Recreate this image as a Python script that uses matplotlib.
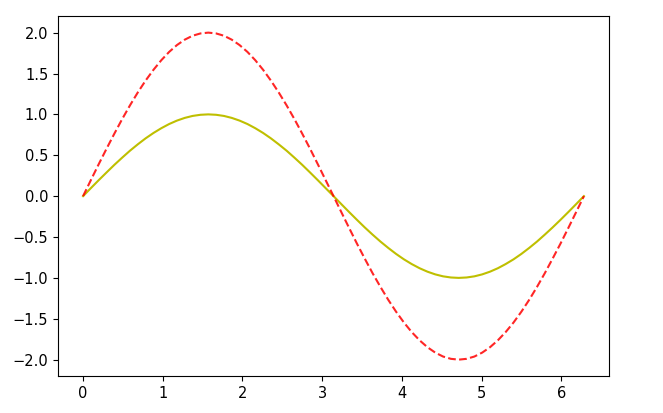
import matplotlib
matplotlib.use("Agg")
import matplotlib.pyplot as plt

# values
x = [0.000, 0.098, 0.196, 0.295, 0.393, 0.491, 0.589, 0.687, 0.785, 0.884,
     0.982, 1.080, 1.178, 1.276, 1.374, 1.473, 1.571, 1.669, 1.767, 1.865,
     1.963, 2.062, 2.160, 2.258, 2.356, 2.454, 2.553, 2.651, 2.749, 2.847,
     2.945, 3.043, 3.142, 3.240, 3.338, 3.436, 3.534, 3.632, 3.731, 3.829,
     3.927, 4.025, 4.123, 4.222, 4.320, 4.418, 4.516, 4.614, 4.712, 4.811,
     4.909, 5.007, 5.105, 5.203, 5.301, 5.400, 5.498, 5.596, 5.694, 5.792,
     5.890, 5.989, 6.087, 6.185, 6.283]
y_small = [0.000, 0.098, 0.195, 0.290, 0.383, 0.471, 0.556, 0.634, 0.707, 0.773,
           0.831, 0.882, 0.924, 0.957, 0.981, 0.995, 1.000, 0.995, 0.981, 0.957,
           0.924, 0.882, 0.831, 0.773, 0.707, 0.634, 0.556, 0.471, 0.383, 0.290,
           0.195, 0.098, 0.000, -0.098, -0.195, -0.290, -0.383, -0.471, -0.556, -0.634,
           -0.707, -0.773, -0.831, -0.882, -0.924, -0.957, -0.981, -0.995, -1.000, -0.995,
           -0.981, -0.957, -0.924, -0.882, -0.831, -0.773, -0.707, -0.634, -0.556, -0.471,
           -0.383, -0.290, -0.195, -0.098, 0.000]
y_big = [0.000, 0.196, 0.390, 0.581, 0.765, 0.943, 1.111, 1.269, 1.414, 1.546,
         1.663, 1.764, 1.848, 1.914, 1.962, 1.990, 2.000, 1.990, 1.962, 1.914,
         1.848, 1.764, 1.663, 1.546, 1.414, 1.269, 1.111, 0.943, 0.765, 0.581,
         0.390, 0.196, 0.000, -0.196, -0.390, -0.581, -0.765, -0.943, -1.111, -1.269,
         -1.414, -1.546, -1.663, -1.764, -1.848, -1.914, -1.962, -1.990, -2.000, -1.990,
         -1.962, -1.914, -1.848, -1.764, -1.663, -1.546, -1.414, -1.269, -1.111, -0.943,
         -0.765, -0.581, -0.390, -0.196, 0.000]

plt.rcParams['font.size'] = 10.5
fig = plt.figure(figsize=(6.63, 4.13), dpi=100)
ax = fig.add_axes([0.0875, 0.0896, 0.831, 0.871])
ax.plot(x, y_small, 'y-')
ax.plot(x, y_big, 'r--', alpha=0.85)
ax.set_yticks([-2.0, -1.5, -1.0, -0.5, 0.0, 0.5, 1.0, 1.5, 2.0])
fig.savefig("out.png", dpi=100)
